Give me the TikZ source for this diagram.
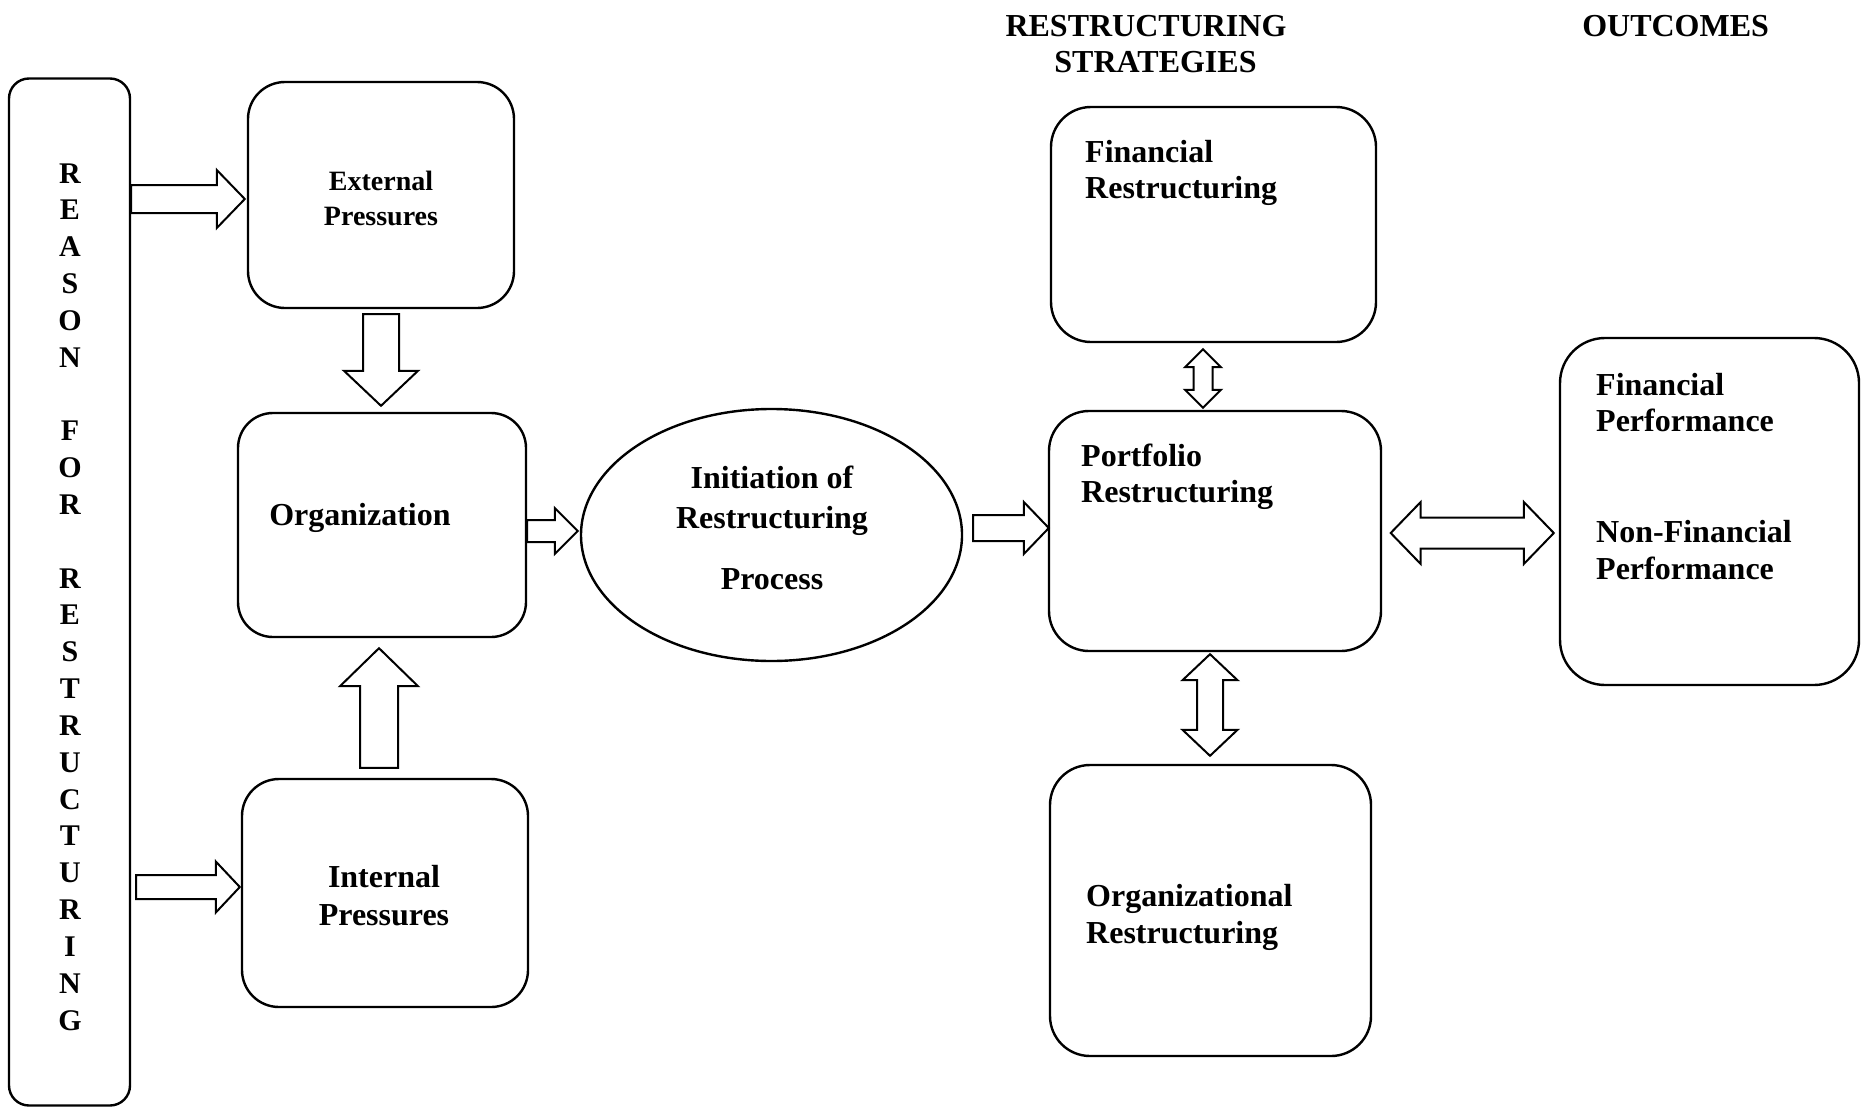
\documentclass[tikz,border=0pt]{standalone}
\usepackage{fontspec}
\setmainfont{Liberation Serif}
\usetikzlibrary{calc,shapes.geometric}
\tikzset{
  box/.style={draw, line width=2.4pt, rounded corners=#1, inner sep=0pt},
  box/.default=37pt,
  oval/.style={draw, line width=2.4pt, ellipse, inner sep=0pt},
  blk/.style={draw, line width=2pt, fill=white, line join=miter},
  txt/.style={inner sep=0pt, font=\fontsize{32}{38}\selectfont\bfseries},
  smalltxt/.style={inner sep=0pt, font=\fontsize{28}{34}\selectfont\bfseries},
  letter/.style={inner sep=0pt, anchor=base, font=\fontsize{30}{36}\selectfont\bfseries}
}
% right-pointing block arrow: #1 start, #2 tip, #3 shaft half, #4 head half, #5 head length
\newcommand\blkR[5]{\draw[blk] ($(#1)+(0,-#3)$) -- ($(#2)+(-#5,-#3)$) -- ($(#2)+(-#5,-#4)$) -- (#2) -- ($(#2)+(-#5,#4)$) -- ($(#2)+(-#5,#3)$) -- ($(#1)+(0,#3)$) -- cycle;}
% downward block arrow
\newcommand\blkD[5]{\draw[blk] ($(#1)+(-#3,0)$) -- ($(#2)+(-#3,-#5)$) -- ($(#2)+(-#4,-#5)$) -- (#2) -- ($(#2)+(#4,-#5)$) -- ($(#2)+(#3,-#5)$) -- ($(#1)+(#3,0)$) -- cycle;}
% upward block arrow
\newcommand\blkU[5]{\draw[blk] ($(#1)+(-#3,0)$) -- ($(#2)+(-#3,#5)$) -- ($(#2)+(-#4,#5)$) -- (#2) -- ($(#2)+(#4,#5)$) -- ($(#2)+(#3,#5)$) -- ($(#1)+(#3,0)$) -- cycle;}
% horizontal double block arrow: #1 left tip, #2 right tip
\newcommand\blkH[5]{\draw[blk] (#1) -- ($(#1)+(#5,-#4)$) -- ($(#1)+(#5,-#3)$) -- ($(#2)+(-#5,-#3)$) -- ($(#2)+(-#5,-#4)$) -- (#2) -- ($(#2)+(-#5,#4)$) -- ($(#2)+(-#5,#3)$) -- ($(#1)+(#5,#3)$) -- ($(#1)+(#5,#4)$) -- cycle;}
% vertical double block arrow: #1 top tip, #2 bottom tip
\newcommand\blkV[5]{\draw[blk] (#1) -- ($(#1)+(#4,#5)$) -- ($(#1)+(#3,#5)$) -- ($(#2)+(#3,-#5)$) -- ($(#2)+(#4,-#5)$) -- (#2) -- ($(#2)+(-#4,-#5)$) -- ($(#2)+(-#3,-#5)$) -- ($(#1)+(-#3,#5)$) -- ($(#1)+(-#4,#5)$) -- cycle;}

\begin{document}
\begin{tikzpicture}[x=1pt,y=-1pt]
\fill[white] (0,0) rectangle (1867,1108);
\useasboundingbox (0,0) rectangle (1867,1108);

% boxes
\node[box=20pt, minimum width=121pt, minimum height=1027pt] (reason) at (69.5,592) {};
\node[box, minimum width=266pt, minimum height=226pt] (ext) at (381,195) {};
\node[box=35pt, minimum width=288pt, minimum height=224pt] (org) at (382,525) {};
\node[box, minimum width=286pt, minimum height=228pt] (int) at (385,893) {};
\node[oval, minimum width=381pt, minimum height=252pt] (ell) at (771.5,535) {};
\node[box=40pt, minimum width=325pt, minimum height=235pt] (fin) at (1213.5,224.5) {};
\node[box=40pt, minimum width=332pt, minimum height=240pt] (port) at (1215,531) {};
\node[box=40pt, minimum width=321pt, minimum height=291pt] (orgr) at (1210.5,910.5) {};
\node[box=45pt, minimum width=299pt, minimum height=347pt] (out) at (1709.5,511.5) {};

% reason letters
\foreach \l/\i in {R/0,E/1,A/2,S/3,O/4,N/5,F/7,O/8,R/9,R/11,E/12,S/13,T/14,R/15,U/16,C/17,T/18,U/19,R/20,I/21,N/22,G/23}
  \node[letter] (rl\i) at (70,{183+36.83*\i}) {\l};

% texts
\node[smalltxt, anchor=base] (extA) at (381,190) {External};
\node[smalltxt, anchor=base] (extB) at (381,225) {Pressures};
\node[txt, anchor=base] (orgA) at (360,525) {Organization};
\node[txt, anchor=base] (intA) at (384,887) {Internal};
\node[txt, anchor=base] (intB) at (384,925) {Pressures};
\node[txt, anchor=base] (ellA) at (772,488) {Initiation of};
\node[txt, anchor=base] (ellB) at (772,528) {Restructuring};
\node[txt, anchor=base] (ellC) at (772,589) {Process};
\node[txt, anchor=base west] (finA) at (1085,162) {Financial};
\node[txt, anchor=base west] (finB) at (1085,198) {Restructuring};
\node[txt, anchor=base west] (portA) at (1081,466) {Portfolio};
\node[txt, anchor=base west] (portB) at (1081,502) {Restructuring};
\node[txt, anchor=base west] (orgrA) at (1086,906) {Organizational};
\node[txt, anchor=base west] (orgrB) at (1086,943) {Restructuring};
\node[txt, anchor=base west] (outA) at (1596,395) {Financial};
\node[txt, anchor=base west] (outB) at (1596,431) {Performance};
\node[txt, anchor=base west] (outC) at (1596,542.5) {Non-Financial};
\node[txt, anchor=base west] (outD) at (1596,579) {Performance};
\node[txt, anchor=base] (hdA) at (1146,37) {RESTRUCTURING};
\node[txt, anchor=base] (hdB) at (1155.5,73) {STRATEGIES};
\node[txt, anchor=base] (hdC) at (1675.6,37) {OUTCOMES};

% connector end points
\coordinate (a1s) at ($(reason.east|-ext.west)+(0,4)$);
\coordinate (a1t) at ($(ext.west)+(-2,4)$);
\coordinate (a2s) at ($(reason.east|-int.west)+(5,-6)$);
\coordinate (a2t) at ($(int.west)+(-1,-6)$);
\coordinate (a3s) at ($(ext.south)+(0,5)$);
\coordinate (a3t) at ($(org.north)+(-1,-6)$);
\coordinate (a4s) at ($(int.north)+(-6,-10)$);
\coordinate (a4t) at ($(org.south)+(-3,10)$);
\coordinate (a5s) at ($(org.east)+(0,6)$);
\coordinate (a5t) at ($(org.east-|ell.west)+(-2,6)$);
\coordinate (a6s) at ($(ell.east)+(10,-7)$);
\coordinate (a6t) at ($(ell.east-|port.west)+(1,-7)$);
\coordinate (a7s) at ($(fin.south)+(-10.5,6)$);
\coordinate (a7t) at ($(fin.south|-port.north)+(-10.5,-2)$);
\coordinate (a8s) at ($(port.south)+(-5,2)$);
\coordinate (a8t) at ($(port.south|-orgr.north)+(-5,-8)$);
\coordinate (a9s) at ($(port.east)+(8.5,2)$);
\coordinate (a9t) at ($(port.east-|out.west)+(-5,2)$);

% block arrows
\blkR{a1s}{a1t}{14}{29}{28}
\blkR{a2s}{a2t}{12}{25.5}{24}
\blkD{a3s}{a3t}{18}{37}{35}
\blkU{a4s}{a4t}{19}{39}{38}
\blkR{a5s}{a5t}{11}{23}{23}
\blkR{a6s}{a6t}{13}{26}{25}
\blkV{a7s}{a7t}{9.5}{18}{18}
\blkV{a8s}{a8t}{13}{27.5}{26}
\blkH{a9s}{a9t}{15.5}{31}{30}
\end{tikzpicture}
\end{document}
